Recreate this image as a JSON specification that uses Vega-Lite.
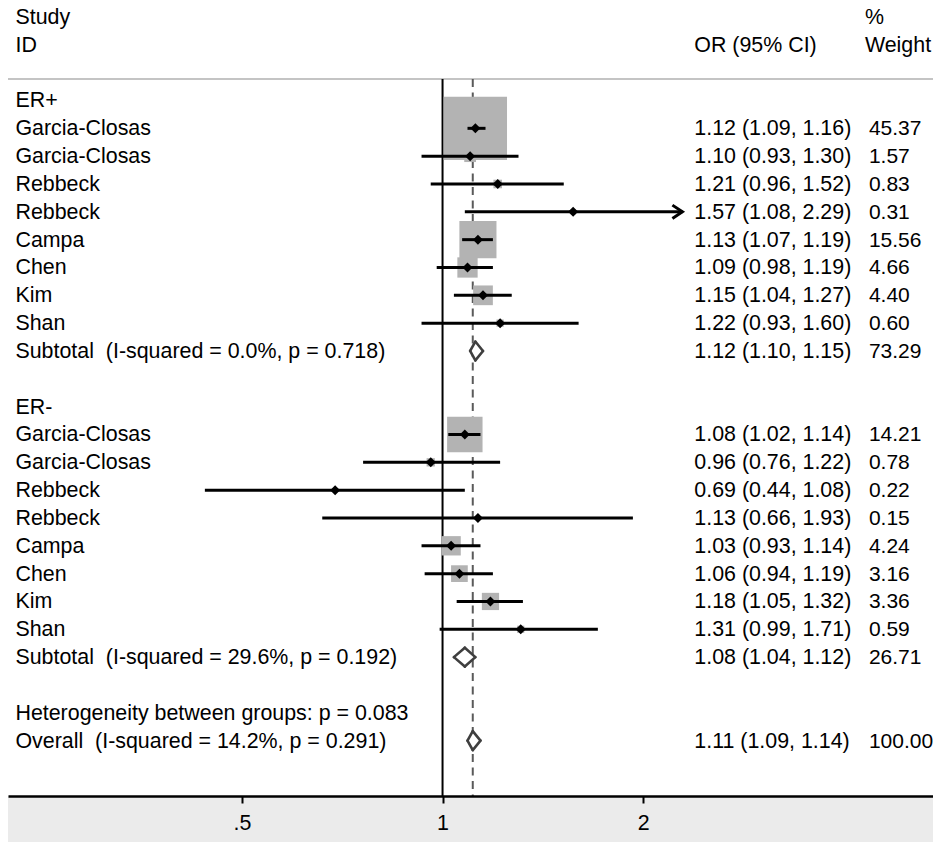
{
  "$schema": "https://vega.github.io/schema/vega-lite/v6.json",
  "width": 925,
  "height": 796,
  "autosize": {"type": "none"},
  "padding": {"left": 8, "top": 0, "right": 0, "bottom": 46},
  "background": "white",
  "config": {
    "view": {"stroke": null},
    "axisY": {"disable": true},
    "text": {"font": "Liberation Sans", "fontSize": 21.4, "color": "#000"}
  },
  "datasets": {
    "rows": [
      {"row": -3, "label": "Study", "kind": "header"},
      {"row": -2, "label": "ID", "kind": "header"},
      {"row": 0, "label": "ER+", "kind": "group"},
      {"row": 1, "label": "Garcia-Closas", "kind": "study", "or": 1.12, "lo": 1.09, "hi": 1.16, "w": 45.37},
      {"row": 2, "label": "Garcia-Closas", "kind": "study", "or": 1.10, "lo": 0.93, "hi": 1.30, "w": 1.57},
      {"row": 3, "label": "Rebbeck", "kind": "study", "or": 1.21, "lo": 0.96, "hi": 1.52, "w": 0.83},
      {"row": 4, "label": "Rebbeck", "kind": "study", "or": 1.57, "lo": 1.08, "hi": 2.29, "w": 0.31},
      {"row": 5, "label": "Campa", "kind": "study", "or": 1.13, "lo": 1.07, "hi": 1.19, "w": 15.56},
      {"row": 6, "label": "Chen", "kind": "study", "or": 1.09, "lo": 0.98, "hi": 1.19, "w": 4.66},
      {"row": 7, "label": "Kim", "kind": "study", "or": 1.15, "lo": 1.04, "hi": 1.27, "w": 4.40},
      {"row": 8, "label": "Shan", "kind": "study", "or": 1.22, "lo": 0.93, "hi": 1.60, "w": 0.60},
      {"row": 9, "label": "Subtotal \u00a0(I-squared = 0.0%, p = 0.718)", "kind": "pooled", "or": 1.12, "lo": 1.10, "hi": 1.15, "w": 73.29},
      {"row": 11, "label": "ER-", "kind": "group"},
      {"row": 12, "label": "Garcia-Closas", "kind": "study", "or": 1.08, "lo": 1.02, "hi": 1.14, "w": 14.21},
      {"row": 13, "label": "Garcia-Closas", "kind": "study", "or": 0.96, "lo": 0.76, "hi": 1.22, "w": 0.78},
      {"row": 14, "label": "Rebbeck", "kind": "study", "or": 0.69, "lo": 0.44, "hi": 1.08, "w": 0.22},
      {"row": 15, "label": "Rebbeck", "kind": "study", "or": 1.13, "lo": 0.66, "hi": 1.93, "w": 0.15},
      {"row": 16, "label": "Campa", "kind": "study", "or": 1.03, "lo": 0.93, "hi": 1.14, "w": 4.24},
      {"row": 17, "label": "Chen", "kind": "study", "or": 1.06, "lo": 0.94, "hi": 1.19, "w": 3.16},
      {"row": 18, "label": "Kim", "kind": "study", "or": 1.18, "lo": 1.05, "hi": 1.32, "w": 3.36},
      {"row": 19, "label": "Shan", "kind": "study", "or": 1.31, "lo": 0.99, "hi": 1.71, "w": 0.59},
      {"row": 20, "label": "Subtotal \u00a0(I-squared = 29.6%, p = 0.192)", "kind": "pooled", "or": 1.08, "lo": 1.04, "hi": 1.12, "w": 26.71},
      {"row": 22, "label": "Heterogeneity between groups: p = 0.083", "kind": "note"},
      {"row": 23, "label": "Overall \u00a0(I-squared = 14.2%, p = 0.291)", "kind": "overall", "or": 1.11, "lo": 1.09, "hi": 1.14, "w": 100.00}
    ],
    "ciHeader": [
      {"row": -2, "text": "OR (95% CI)"}
    ],
    "weightHeader": [
      {"row": -3, "text": "%"},
      {"row": -2, "text": "Weight"}
    ]
  },
  "layer": [
    {
      "description": "grey band under the axis",
      "data": {"values": [{}]},
      "mark": {"type": "rect", "color": "#ebebeb"},
      "encoding": {
        "x": {
          "datum": 0.2229, "type": "quantitative",
          "scale": {"type": "log", "domain": [0.2229, 5.442], "nice": false},
          "axis": {
            "values": [0.5, 1, 2],
            "labelExpr": "datum.value < 1 ? '.5' : '' + datum.value",
            "title": null, "grid": false,
            "domainColor": "#000", "domainWidth": 2.5,
            "tickColor": "#000", "tickWidth": 2, "tickSize": 7,
            "labelFont": "Liberation Sans", "labelFontSize": 21.4, "labelColor": "#000",
            "labelPadding": 9, "labelFlush": false, "labelOverlap": false, "zindex": 1
          }
        },
        "x2": {"datum": 5.442},
        "y": {
          "datum": 24.99, "type": "quantitative",
          "scale": {"domain": [-3.611, 24.99], "reverse": true, "nice": false, "zero": false}
        },
        "y2": {"datum": 26.66}
      }
    },
    {
      "description": "rule under the column headers",
      "data": {"values": [{}]},
      "mark": {"type": "rule", "color": "#c4c4c4", "strokeWidth": 2},
      "encoding": {
        "x": {"datum": 0.2229, "type": "quantitative"},
        "x2": {"datum": 5.442},
        "y": {"datum": -0.772, "type": "quantitative"}
      }
    },
    {
      "description": "line of no effect",
      "data": {"values": [{}]},
      "mark": {"type": "rule", "color": "#000", "strokeWidth": 2},
      "encoding": {
        "x": {"datum": 1, "type": "quantitative"},
        "y": {"datum": -0.772, "type": "quantitative"},
        "y2": {"datum": 24.99}
      }
    },
    {
      "description": "dashed line at the overall estimate",
      "data": {"name": "rows"},
      "transform": [{"filter": "datum.kind == 'overall'"}],
      "mark": {"type": "rule", "color": "#5a5a5a", "strokeWidth": 2, "strokeDash": [8, 5.5]},
      "encoding": {
        "x": {"field": "or", "type": "quantitative", "title": null},
        "y": {"datum": -0.772, "type": "quantitative"},
        "y2": {"datum": 24.99}
      }
    },
    {
      "description": "weight boxes, area proportional to weight",
      "data": {"name": "rows"},
      "transform": [{"filter": "datum.kind == 'study'"}],
      "mark": {"type": "point", "shape": "square", "filled": true, "color": "#b3b3b3", "opacity": 1, "strokeWidth": 0},
      "encoding": {
        "x": {"field": "or", "type": "quantitative", "title": null},
        "y": {"field": "row", "type": "quantitative"},
        "size": {"field": "w", "type": "quantitative", "scale": {"type": "linear", "domain": [0, 100], "range": [0, 8836]}, "legend": null}
      }
    },
    {
      "description": "confidence intervals",
      "data": {"name": "rows"},
      "transform": [{"filter": "datum.kind == 'study'"}],
      "mark": {"type": "rule", "color": "#000", "strokeWidth": 3},
      "encoding": {
        "x": {"field": "lo", "type": "quantitative", "title": null},
        "x2": {"field": "hi"},
        "y": {"field": "row", "type": "quantitative"}
      }
    },
    {
      "description": "point estimates",
      "data": {"name": "rows"},
      "transform": [{"filter": "datum.kind == 'study'"}],
      "mark": {"type": "point", "shape": "diamond", "filled": true, "color": "#000", "opacity": 1, "size": 100},
      "encoding": {
        "x": {"field": "or", "type": "quantitative", "title": null},
        "y": {"field": "row", "type": "quantitative"}
      }
    },
    {
      "description": "arrow where an interval runs past the last tick",
      "data": {"name": "rows"},
      "transform": [{"filter": "datum.kind == 'study' && datum.hi > 2"}],
      "mark": {"type": "point", "shape": "M-1,-0.67L0,0L-1,0.67", "filled": false, "stroke": "#000", "strokeWidth": 3, "opacity": 1, "size": 400},
      "encoding": {
        "x": {"field": "hi", "type": "quantitative", "title": null},
        "y": {"field": "row", "type": "quantitative"}
      }
    },
    {
      "description": "white fill inside the pooled diamonds",
      "data": {"name": "rows"},
      "transform": [
        {"filter": "datum.kind == 'pooled' || datum.kind == 'overall'"},
        {"fold": ["lo", "or", "hi"], "as": ["vertex", "xv"]},
        {"calculate": "datum.vertex == 'or' ? 0.34 : 0", "as": "half"},
        {"calculate": "datum.row - datum.half", "as": "ytop"},
        {"calculate": "datum.row + datum.half", "as": "ybot"}
      ],
      "mark": {"type": "area", "fill": "white", "strokeWidth": 0, "opacity": 1, "orient": "vertical"},
      "encoding": {
        "x": {"field": "xv", "type": "quantitative", "title": null},
        "y": {"field": "ytop", "type": "quantitative"},
        "y2": {"field": "ybot"},
        "detail": {"field": "row", "type": "nominal"}
      }
    },
    {
      "description": "upper edges of the pooled diamonds",
      "data": {"name": "rows"},
      "transform": [
        {"filter": "datum.kind == 'pooled' || datum.kind == 'overall'"},
        {"fold": ["lo", "hi"], "as": ["end", "xe"]},
        {"calculate": "datum.row - 0.34", "as": "ytip"}
      ],
      "mark": {"type": "rule", "color": "#3f3f3f", "strokeWidth": 2.6, "strokeCap": "round"},
      "encoding": {
        "x": {"field": "xe", "type": "quantitative", "title": null},
        "x2": {"field": "or"},
        "y": {"field": "row", "type": "quantitative"},
        "y2": {"field": "ytip"}
      }
    },
    {
      "description": "lower edges of the pooled diamonds",
      "data": {"name": "rows"},
      "transform": [
        {"filter": "datum.kind == 'pooled' || datum.kind == 'overall'"},
        {"fold": ["lo", "hi"], "as": ["end", "xe"]},
        {"calculate": "datum.row + 0.34", "as": "ytip"}
      ],
      "mark": {"type": "rule", "color": "#3f3f3f", "strokeWidth": 2.6, "strokeCap": "round"},
      "encoding": {
        "x": {"field": "xe", "type": "quantitative", "title": null},
        "x2": {"field": "or"},
        "y": {"field": "row", "type": "quantitative"},
        "y2": {"field": "ytip"}
      }
    },
    {
      "description": "study labels",
      "data": {"name": "rows"},
      "mark": {"type": "text", "align": "left", "baseline": "alphabetic", "dy": 7},
      "encoding": {
        "x": {"datum": 0.2287, "type": "quantitative"},
        "y": {"field": "row", "type": "quantitative"},
        "text": {"field": "label"}
      }
    },
    {
      "description": "odds ratio and interval column",
      "data": {"name": "rows"},
      "transform": [
        {"filter": "isValid(datum.or)"},
        {"calculate": "format(datum.or, '.2f') + ' (' + format(datum.lo, '.2f') + ', ' + format(datum.hi, '.2f') + ')'", "as": "ci"}
      ],
      "mark": {"type": "text", "align": "left", "baseline": "alphabetic", "dy": 7},
      "encoding": {
        "x": {"datum": 2.386, "type": "quantitative"},
        "y": {"field": "row", "type": "quantitative"},
        "text": {"field": "ci"}
      }
    },
    {
      "description": "weight column",
      "data": {"name": "rows"},
      "transform": [{"filter": "isValid(datum.w)"}],
      "mark": {"type": "text", "align": "left", "baseline": "alphabetic", "dy": 7, "fontSize": 21},
      "encoding": {
        "x": {"datum": 4.361, "type": "quantitative"},
        "y": {"field": "row", "type": "quantitative"},
        "text": {"field": "w", "type": "quantitative", "format": ".2f"}
      }
    },
    {
      "description": "interval column header",
      "data": {"name": "ciHeader"},
      "mark": {"type": "text", "align": "left", "baseline": "alphabetic", "dy": 7},
      "encoding": {
        "x": {"datum": 2.386, "type": "quantitative"},
        "y": {"field": "row", "type": "quantitative"},
        "text": {"field": "text"}
      }
    },
    {
      "description": "weight column header",
      "data": {"name": "weightHeader"},
      "mark": {"type": "text", "align": "left", "baseline": "alphabetic", "dy": 7},
      "encoding": {
        "x": {"datum": 4.301, "type": "quantitative"},
        "y": {"field": "row", "type": "quantitative"},
        "text": {"field": "text"}
      }
    }
  ]
}
